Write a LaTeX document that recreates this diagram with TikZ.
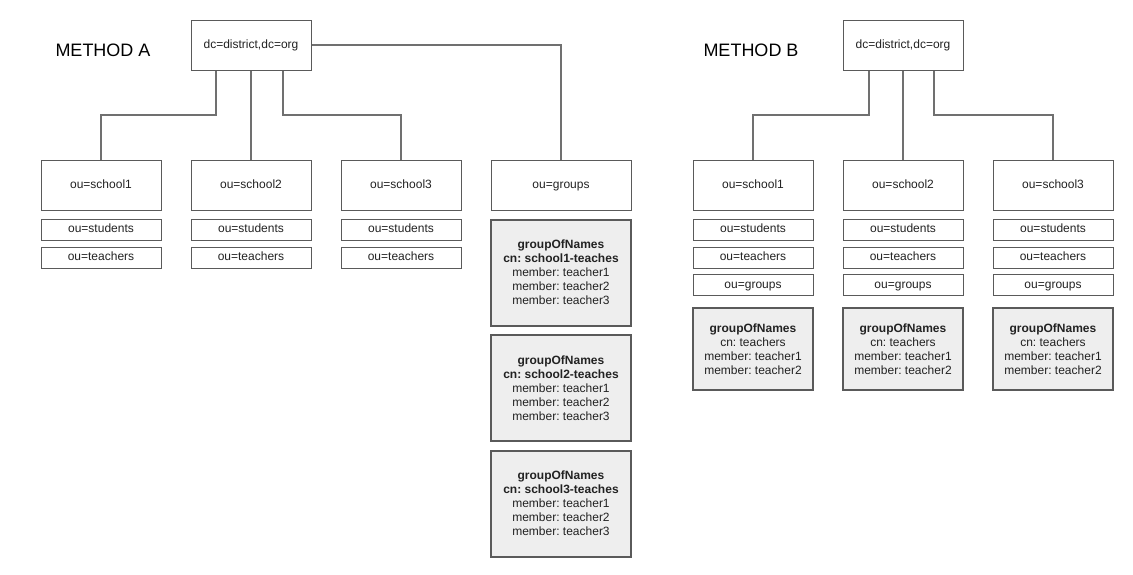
\documentclass[tikz,border=0pt]{standalone}
\usepackage{fontspec}
\setmainfont{Liberation Sans}
\usepackage{xcolor}
\usepackage{tikz}
\frenchspacing
\definecolor{boxgray}{HTML}{5A5A5A}
\definecolor{edgegray}{HTML}{707070}
\definecolor{gonfill}{HTML}{EEEEEE}
\definecolor{txtgray}{HTML}{222222}
\tikzset{
	entry/.style={draw=boxgray, line width=0.75pt, minimum width=90pt, minimum height=37.5pt, inner sep=0pt, text height=6.6pt, text depth=1.8pt, text=txtgray, font=\fontsize{9}{10.5}\selectfont},
	subentry/.style={entry, minimum height=15.75pt},
	gon/.style={draw=boxgray, fill=gonfill, line width=1.5pt, minimum width=90pt, inner sep=0pt, align=center, text=txtgray, font=\fontsize{9}{10.5}\selectfont},
	link/.style={draw=edgegray, line width=1.5pt},
	method/.style={font=\fontsize{13.5}{16}\selectfont}
}
\begin{document}
\begin{tikzpicture}[x=0.75pt, y=-0.75pt]
				\useasboundingbox (0, 0) rectangle (1133, 575);
				\node[method] (titleA) at (103, 50) {METHOD A};
				\node[entry] (rootA) at (251, 45) {dc=district,dc=org};
				\node[entry] (schoolA1) at (101, 185) {ou=school1};
				\node[entry] (schoolA2) at (251, 185) {ou=school2};
				\node[entry] (schoolA3) at (401, 185) {ou=school3};
				\node[entry, minimum width=105pt] (groupsA) at (561, 185) {ou=groups};
				\node[subentry] (studA1) at (101, 229.5) {ou=students};
				\node[subentry] (studA2) at (251, 229.5) {ou=students};
				\node[subentry] (studA3) at (401, 229.5) {ou=students};
				\node[subentry] (teachA1) at (101, 257.5) {ou=teachers};
				\node[subentry] (teachA2) at (251, 257.5) {ou=teachers};
				\node[subentry] (teachA3) at (401, 257.5) {ou=teachers};
				\node[gon, minimum width=105pt, minimum height=79.5pt] (gonA1) at (561, 272.5) {\textbf{groupOfNames}\\\textbf{cn: school1-teaches}\\member: teacher1\\member: teacher2\\member: teacher3};
				\node[gon, minimum width=105pt, minimum height=79.5pt] (gonA2) at (561, 388) {\textbf{groupOfNames}\\\textbf{cn: school2-teaches}\\member: teacher1\\member: teacher2\\member: teacher3};
				\node[gon, minimum width=105pt, minimum height=79.5pt] (gonA3) at (561, 503.5) {\textbf{groupOfNames}\\\textbf{cn: school3-teaches}\\member: teacher1\\member: teacher2\\member: teacher3};
				\coordinate (busA) at (0, 115);
				\draw[link] ([xshift=-26.25pt]rootA.south) |- (busA -| schoolA1.north) -- (schoolA1.north);
				\draw[link] (rootA.south) -- (schoolA2.north);
				\draw[link] ([xshift=24pt]rootA.south) |- (busA -| schoolA3.north) -- (schoolA3.north);
				\draw[link] (rootA.east) -| (groupsA.north);
				\node[method] (titleB) at (751, 50) {METHOD B};
				\node[entry] (rootB) at (903, 45) {dc=district,dc=org};
				\node[entry] (schoolB1) at (753, 185) {ou=school1};
				\node[entry] (schoolB2) at (903, 185) {ou=school2};
				\node[entry] (schoolB3) at (1053, 185) {ou=school3};
				\node[subentry] (studB1) at (753, 229.5) {ou=students};
				\node[subentry] (studB2) at (903, 229.5) {ou=students};
				\node[subentry] (studB3) at (1053, 229.5) {ou=students};
				\node[subentry] (teachB1) at (753, 257.5) {ou=teachers};
				\node[subentry] (teachB2) at (903, 257.5) {ou=teachers};
				\node[subentry] (teachB3) at (1053, 257.5) {ou=teachers};
				\node[subentry] (groupsB1) at (753, 285) {ou=groups};
				\node[subentry] (groupsB2) at (903, 285) {ou=groups};
				\node[subentry] (groupsB3) at (1053, 285) {ou=groups};
				\node[gon, minimum height=61.5pt] (gonB1) at (753, 349) {\textbf{groupOfNames}\\cn: teachers\\member: teacher1\\member: teacher2};
				\node[gon, minimum height=61.5pt] (gonB2) at (903, 349) {\textbf{groupOfNames}\\cn: teachers\\member: teacher1\\member: teacher2};
				\node[gon, minimum height=61.5pt] (gonB3) at (1053, 349) {\textbf{groupOfNames}\\cn: teachers\\member: teacher1\\member: teacher2};
				\coordinate (busB) at (0, 115);
				\draw[link] ([xshift=-25.5pt]rootB.south) |- (busB -| schoolB1.north) -- (schoolB1.north);
				\draw[link] (rootB.south) -- (schoolB2.north);
				\draw[link] ([xshift=23.25pt]rootB.south) |- (busB -| schoolB3.north) -- (schoolB3.north);
			\end{tikzpicture}
\end{document}
